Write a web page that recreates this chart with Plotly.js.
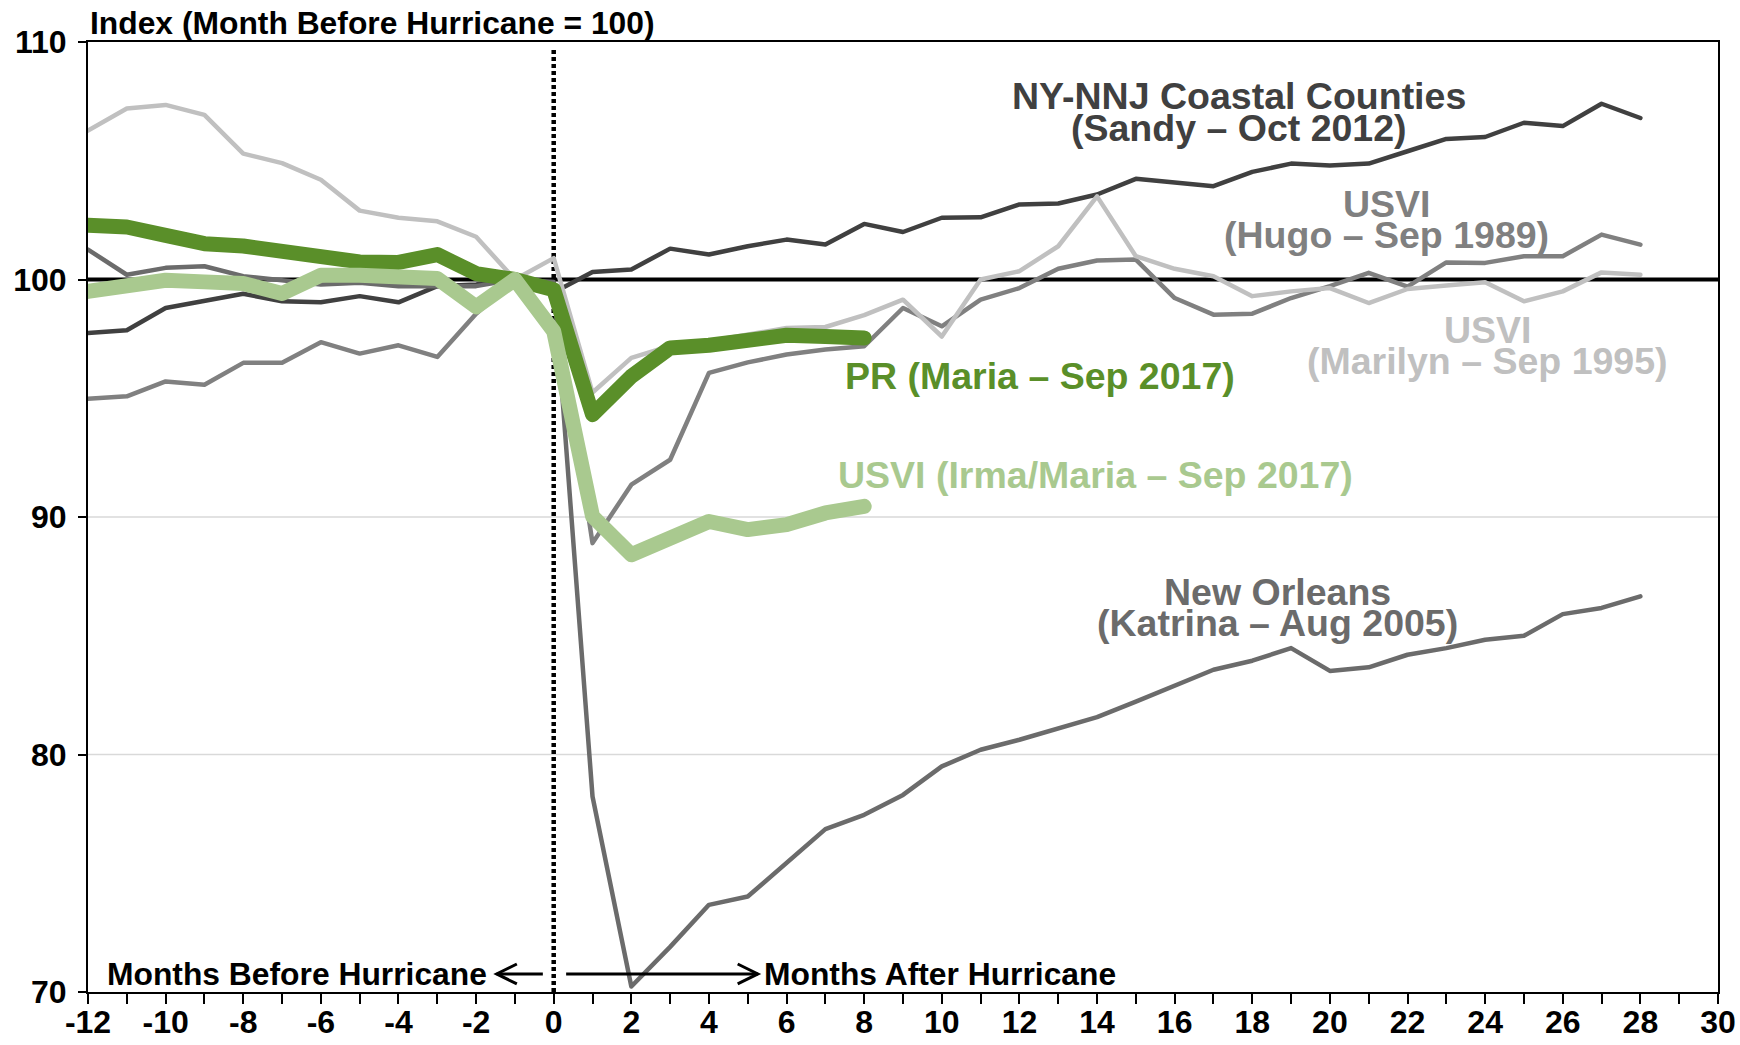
<!DOCTYPE html>
<html>
<head>
<meta charset="utf-8">
<script src="https://cdn.plot.ly/plotly-3.0.1.min.js"></script>
<style>
html, body { margin: 0; padding: 0; background: #ffffff; }
#chart { width: 1740px; height: 1045px; }
.scatterlayer path.js-line { stroke-linecap: round; stroke-linejoin: round; }
</style>
</head>
<body>
<div id="chart"></div>
<script>
// ---- Data (index, month before hurricane = 100) ----
const monthsLong = [-12,-11,-10,-9,-8,-7,-6,-5,-4,-3,-2,-1,0,1,2,3,4,5,6,7,8,9,10,11,12,13,14,15,16,17,18,19,20,21,22,23,24,25,26,27,28];
const monthsShort = [-12,-11,-10,-9,-8,-7,-6,-5,-4,-3,-2,-1,0,1,2,3,4,5,6,7,8];

const sandy = [97.75,97.86,98.8,99.08,99.4,99.08,99.04,99.3,99.04,99.72,99.79,100,99.45,100.32,100.42,101.3,101.05,101.4,101.68,101.47,102.34,102.0,102.6,102.62,103.16,103.2,103.58,104.24,104.1,103.93,104.53,104.88,104.8,104.88,105.4,105.92,106.0,106.6,106.46,107.4,106.8];
const hugo = [94.98,95.08,95.71,95.57,96.49,96.49,97.36,96.88,97.23,96.74,98.56,100,99.6,88.9,91.36,92.41,96.07,96.51,96.84,97.05,97.19,98.8,98.03,99.15,99.64,100.45,100.8,100.84,99.22,98.52,98.56,99.22,99.72,100.28,99.7,100.72,100.7,100.98,100.98,101.89,101.47];
const marilyn = [106.27,107.2,107.35,106.93,105.3,104.9,104.2,102.9,102.6,102.45,101.8,100,100.9,95.24,96.7,97.2,97.4,97.7,97.96,98.0,98.5,99.15,97.6,100.0,100.35,101.4,103.5,100.98,100.45,100.14,99.3,99.5,99.64,99.01,99.6,99.75,99.88,99.08,99.5,100.3,100.2];
const katrina = [101.26,100.2,100.49,100.56,100.14,99.95,99.79,99.86,99.72,99.72,99.72,100,99.9,78.23,70.23,71.9,73.67,74.02,75.43,76.86,77.46,78.3,79.5,80.2,80.62,81.11,81.57,82.23,82.89,83.57,83.95,84.48,83.52,83.67,84.2,84.48,84.83,85.0,85.91,86.17,86.66];
const prMaria = [102.28,102.21,101.86,101.51,101.41,101.16,101.02,100.74,100.72,101.05,100.25,100,99.57,94.31,95.92,97.12,97.23,97.47,97.65,97.6,97.54];
const usviIrmaMaria = [99.5,99.79,99.97,99.9,99.83,99.41,100.18,100.18,100.14,100.04,98.85,100,97.82,90.03,88.41,89.11,89.81,89.47,89.68,90.17,90.45];

const xTickVals = [-12,-10,-8,-6,-4,-2,0,2,4,6,8,10,12,14,16,18,20,22,24,26,28,30];
const xTickText = ["-12","-10","-8","-6","-4","-2","0","2","4","6","8","10","12","14","16","18","20","22","24","26","28","30"];
const yTickVals = [70,80,90,100,110];
const yTickText = ["70","80","90","100","110"];
const yGridVals = [80,90];
const baseline = 100;

const FONT = "Liberation Sans, Arial, Helvetica, sans-serif";

const C_SANDY = "#404040";
const C_HUGO = "#808080";
const C_MARILYN = "#c0c0c0";
const C_KATRINA = "#6b6b6b";
const C_PR = "#5a8f29";
const C_IRMA = "#a9c98f";

function line(x, y, color, width, name) {
  return { type: "scatter", mode: "lines", x: x, y: y, name: name,
           line: { color: color, width: width }, hoverinfo: "skip", showlegend: false };
}

const traces = [
  line(monthsLong, sandy, C_SANDY, 4.5, "NY-NNJ Coastal Counties"),
  line(monthsLong, katrina, C_KATRINA, 4.5, "New Orleans"),
  line(monthsLong, hugo, C_HUGO, 4.5, "USVI (Hugo)"),
  line(monthsLong, marilyn, C_MARILYN, 4.5, "USVI (Marilyn)"),
  line(monthsShort, prMaria, C_PR, 15, "PR (Maria)"),
  line(monthsShort, usviIrmaMaria, C_IRMA, 15, "USVI (Irma/Maria)")
];

function lab(text, x, y, color, size) {
  return { text: text, x: x, y: y, xref: "x", yref: "y", showarrow: false,
           xanchor: "center", yanchor: "middle",
           font: { family: FONT, size: size || 37.5, color: color, weight: "bold" } };
}

const annotations = [
  { text: "Index (Month Before Hurricane = 100)", xref: "paper", yref: "paper",
    x: 0, y: 1.0195, xanchor: "left", yanchor: "middle", showarrow: false,
    font: { family: FONT, size: 31.8, color: "#000000", weight: "bold" } },
  lab("NY-NNJ Coastal Counties", 17.66, 107.72, C_SANDY),
  lab("(Sandy – Oct 2012)", 17.66, 106.37, C_SANDY),
  lab("USVI", 21.47, 103.2, C_HUGO),
  lab("(Hugo – Sep 1989)", 21.47, 101.89, C_HUGO),
  lab("USVI", 24.07, 97.88, C_MARILYN),
  lab("(Marilyn – Sep 1995)", 24.07, 96.55, C_MARILYN),
  lab("PR (Maria – Sep 2017)", 12.53, 95.95, C_PR),
  lab("USVI (Irma/Maria – Sep 2017)", 13.95, 91.78, C_IRMA),
  lab("New Orleans", 18.66, 86.85, C_KATRINA),
  lab("(Katrina – Aug 2005)", 18.66, 85.52, C_KATRINA),
  { text: "Months Before Hurricane", x: -1.66, y: 70.76, xref: "x", yref: "y", showarrow: false,
    xanchor: "right", yanchor: "middle", font: { family: FONT, size: 31.8, color: "#000000", weight: "bold" } },
  { text: "Months After Hurricane", x: 5.36, y: 70.76, xref: "x", yref: "y", showarrow: false,
    xanchor: "left", yanchor: "middle", font: { family: FONT, size: 31.8, color: "#000000", weight: "bold" } }
];

const shapes = yGridVals.map(v => ({
    type: "line", xref: "paper", yref: "y", x0: 0, x1: 1, y0: v, y1: v, layer: "below",
    line: { color: "#d9d9d9", width: 1.5 } }))
  .concat([
  { type: "line", xref: "x", yref: "paper", x0: 0, x1: 0, y0: 0, y1: 0.994, layer: "below",
    line: { color: "#000000", width: 4.5, dash: "4px,3px" } },
  { type: "line", xref: "paper", yref: "y", x0: 0, x1: 1, y0: baseline, y1: baseline, layer: "below",
    line: { color: "#000000", width: 4 } },
  { type: "line", xref: "x", yref: "y", x0: -0.28, x1: -1.47, y0: 70.76, y1: 70.76,
    line: { color: "#000000", width: 3 } },
  { type: "path", xref: "x", yref: "y", path: "M -0.95 71.18 L -1.47 70.76 L -0.95 70.34",
    line: { color: "#000000", width: 3 } },
  { type: "line", xref: "x", yref: "y", x0: 0.32, x1: 5.26, y0: 70.76, y1: 70.76,
    line: { color: "#000000", width: 3 } },
  { type: "path", xref: "x", yref: "y", path: "M 4.74 71.18 L 5.26 70.76 L 4.74 70.34",
    line: { color: "#000000", width: 3 } }
]);

const layout = {
  width: 1740, height: 1045,
  margin: { l: 88, r: 22, t: 42, b: 53, pad: 0 },
  paper_bgcolor: "#ffffff", plot_bgcolor: "rgba(0,0,0,0)",
  showlegend: false,
  font: { family: FONT, color: "#000000" },
  xaxis: {
    range: [-12, 30], tickmode: "array", tickvals: xTickVals, ticktext: xTickText,
    ticks: "outside", ticklen: 10, tickwidth: 2, tickcolor: "#000000",
    ticklabelstandoff: -9,
    minor: { dtick: 1, tick0: 0, ticks: "outside", ticklen: 10, tickwidth: 2, tickcolor: "#000000", showgrid: false },
    showgrid: false, zeroline: false, showline: true, linecolor: "#000000", linewidth: 2, mirror: true,
    tickfont: { family: FONT, size: 32, color: "#000000", weight: "bold" }
  },
  yaxis: {
    range: [70, 110], tickmode: "array", tickvals: yTickVals, ticktext: yTickText,
    ticks: "outside", ticklen: 8, tickwidth: 2, tickcolor: "#000000",
    ticklabelstandoff: 5,
    showgrid: false,
    zeroline: false, showline: true, linecolor: "#000000", linewidth: 2, mirror: true,
    tickfont: { family: FONT, size: 32, color: "#000000", weight: "bold" }
  },
  annotations: annotations,
  shapes: shapes
};

Plotly.newPlot("chart", traces, layout, { staticPlot: true, displayModeBar: false });
</script>
</body>
</html>
